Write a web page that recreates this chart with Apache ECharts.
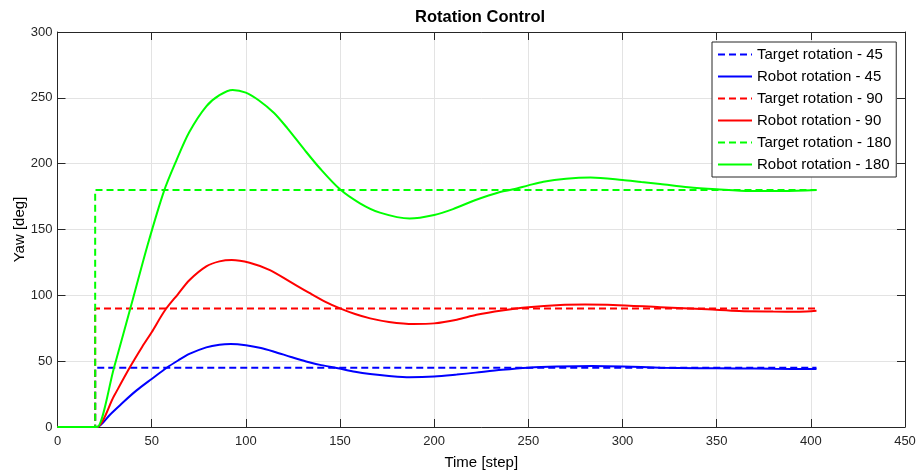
<!DOCTYPE html>
<html>
<head>
<meta charset="utf-8">
<script src="https://cdn.jsdelivr.net/npm/echarts@6/dist/echarts.min.js"></script>
<style>
  html, body { margin: 0; padding: 0; background: #fff; }
  #chart { width: 920px; height: 472px; }
</style>
</head>
<body>
<div id="chart"></div>
<script>
// target steps (x, value)
const targetSteps = [0, 20, 20, 403]
const target45 = [0, 0, 45, 45]
const target90 = [0, 0, 90, 90]
const target180 = [0, 0, 180, 180]

// robot responses
const robot45Steps = [0, 20, 21, 28, 35, 42, 50, 58, 64, 70, 79, 86, 92, 100, 108, 115, 124, 132, 140, 149, 158, 166, 176, 187, 200, 212, 222, 236, 250, 265, 284, 300, 320, 340, 360, 380, 403]
const robot45 = [0, 0, 0, 9.5, 19, 27.8, 36.5, 45, 50.5, 55.5, 60.5, 62.5, 63, 62.1, 60, 57.2, 53.2, 49.8, 47, 44.6, 42, 40.3, 38.8, 37.8, 38.3, 39.8, 41.3, 43.4, 45, 45.9, 46.4, 46, 45, 44.6, 44.5, 44.2, 44]

const robot90Steps = [0, 20, 21, 30, 38.5, 45, 50, 57, 64, 70, 79, 86, 92.5, 102, 112.8, 123.4, 134, 142, 150, 158, 166, 176, 189, 200, 212, 222.5, 236, 250, 267, 280, 295, 320, 345, 362, 380, 394, 403]
const robot90 = [0, 0, 0, 23.5, 45.5, 61, 72, 88.5, 101, 111.5, 122, 125.8, 126.9, 124.8, 119.2, 110.4, 101.6, 95.3, 90.1, 85.8, 82.5, 79.8, 78.2, 78.7, 81.5, 85.2, 88.5, 91, 92.7, 93, 92.7, 91, 89.4, 88.1, 87.7, 87.6, 88.3]

const robot180Steps = [0, 20, 21, 30, 40, 48, 56.5, 63, 70, 79, 86, 93, 100, 107, 115, 122, 131, 139.3, 150, 160.6, 171.2, 187, 200, 210, 222, 235, 242, 250, 258, 270, 283, 300, 310, 320, 335, 350, 368, 385, 403]
const robot180 = [0, 0, 0, 45, 97, 139, 179, 202, 224, 243.5, 252, 256, 254, 248, 238.5, 227, 210.8, 196.5, 180.5, 169.9, 162.8, 158.3, 161, 165.5, 172.4, 178.5, 180.5, 183.5, 186.3, 188.5, 189.4, 187.6, 186, 184.5, 182, 180.5, 179.2, 179.2, 180]

const xTicks = { min: 0, max: 450, interval: 50 }
const yTicks = { min: 0, max: 300, interval: 50 }

function pairs(xs, ys) {
  return xs.map((x, i) => [x, ys[i]])
}

const axisColor = '#262626'
const gridColor = '#e3e3e3'
const BLUE = '#0000ff'
const RED = '#ff0000'
const GREEN = '#00ff00'
const dash = [7, 4]

function lineSeries(name, data, color, dashed) {
  return {
    name: name,
    type: 'line',
    data: data,
    symbol: 'none',
    smooth: dashed ? false : 0.3,
    animation: false,
    lineStyle: { color: color, width: 2, type: dashed ? dash : 'solid' },
    itemStyle: { color: color }
  }
}

const chart = echarts.init(document.getElementById('chart'))

const option = {
  backgroundColor: '#fff',
  animation: false,
  textStyle: { fontFamily: 'Liberation Sans, Arial, sans-serif' },
  graphic: [{
    type: 'text',
    left: 415,
    top: 9,
    style: {
      text: 'Rotation Control',
      fontSize: 16.5,
      fontWeight: 'bold',
      fill: '#000',
      fontFamily: 'Liberation Sans, Arial, sans-serif'
    }
  }],
  grid: { left: 57.5, right: 15, top: 32, bottom: 45, containLabel: false, outerBoundsMode: 'none' },
  legend: {
    orient: 'vertical',
    left: 712,
    top: 42,
    padding: [5, 5, 5, 5],
    itemWidth: 34,
    itemHeight: 14,
    itemGap: 7,
    backgroundColor: '#fff',
    borderColor: axisColor,
    borderWidth: 1,
    borderRadius: 0,
    itemStyle: { opacity: 0 },
    textStyle: { fontSize: 15, color: '#000', fontFamily: 'Liberation Sans, Arial, sans-serif' },
    data: ['Target rotation - 45', 'Robot rotation - 45', 'Target rotation - 90', 'Robot rotation - 90', 'Target rotation - 180', 'Robot rotation - 180']
  },
  xAxis: [{
    type: 'value',
    position: 'bottom',
    min: xTicks.min, max: xTicks.max, interval: xTicks.interval,
    name: 'Time [step]',
    nameLocation: 'middle',
    nameGap: 28,
    nameMoveOverlap: false,
    nameTextStyle: { fontSize: 15, color: '#000' },
    axisLine: { show: true, onZero: false, lineStyle: { color: axisColor, width: 1 } },
    axisTick: { show: true, inside: true, length: 8, lineStyle: { color: axisColor } },
    axisLabel: { fontSize: 13, color: axisColor, margin: 8 },
    splitLine: { show: true, lineStyle: { color: gridColor, width: 1 } }
  }, {
    type: 'value',
    position: 'top',
    min: xTicks.min, max: xTicks.max, interval: xTicks.interval,
    axisLine: { show: true, onZero: false, lineStyle: { color: axisColor, width: 1 } },
    axisTick: { show: true, inside: true, length: 8, lineStyle: { color: axisColor } },
    axisLabel: { show: false },
    splitLine: { show: false }
  }],
  yAxis: [{
    type: 'value',
    position: 'left',
    min: yTicks.min, max: yTicks.max, interval: yTicks.interval,
    name: 'Yaw [deg]',
    nameLocation: 'middle',
    nameGap: 30,
    nameMoveOverlap: false,
    nameTextStyle: { fontSize: 15, color: '#000' },
    axisLine: { show: true, onZero: false, lineStyle: { color: axisColor, width: 1 } },
    axisTick: { show: true, inside: true, length: 8, lineStyle: { color: axisColor } },
    axisLabel: { fontSize: 13, color: axisColor, margin: 5 },
    splitLine: { show: true, lineStyle: { color: gridColor, width: 1 } }
  }, {
    type: 'value',
    position: 'right',
    min: yTicks.min, max: yTicks.max, interval: yTicks.interval,
    axisLine: { show: true, onZero: false, lineStyle: { color: axisColor, width: 1 } },
    axisTick: { show: true, inside: true, length: 8, lineStyle: { color: axisColor } },
    axisLabel: { show: false },
    splitLine: { show: false }
  }],
  series: [
    lineSeries('Target rotation - 45', pairs(targetSteps, target45), BLUE, true),
    lineSeries('Robot rotation - 45', pairs(robot45Steps, robot45), BLUE, false),
    lineSeries('Target rotation - 90', pairs(targetSteps, target90), RED, true),
    lineSeries('Robot rotation - 90', pairs(robot90Steps, robot90), RED, false),
    lineSeries('Target rotation - 180', pairs(targetSteps, target180), GREEN, true),
    lineSeries('Robot rotation - 180', pairs(robot180Steps, robot180), GREEN, false)
  ]
}

chart.setOption(option)
</script>
</body>
</html>
